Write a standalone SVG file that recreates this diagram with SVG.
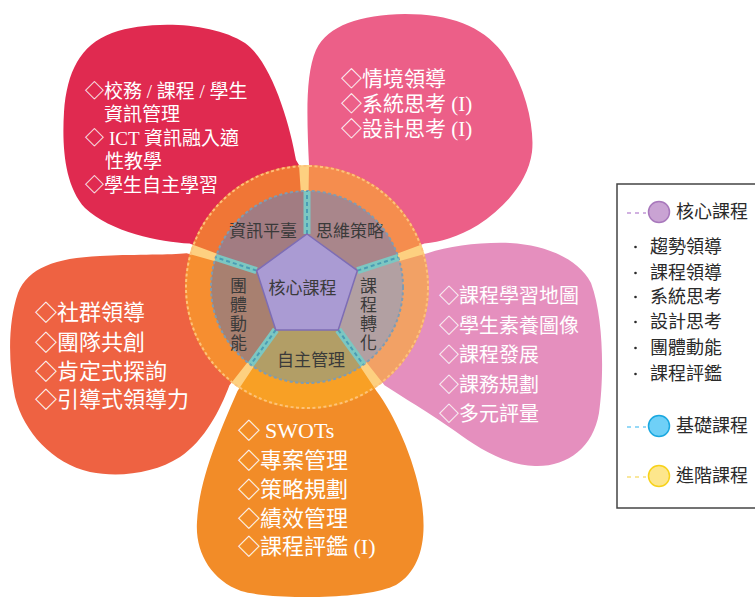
<svg xmlns="http://www.w3.org/2000/svg" width="755" height="597" viewBox="0 0 755 597">
<style>
.pt{font-family:"Noto Sans CJK TC","Noto Sans CJK SC",sans-serif;fill:#ffffff;}
.lat{font-family:"Liberation Serif","Times New Roman",serif;}
.ct{font-family:"Noto Sans CJK TC","Noto Sans CJK SC",sans-serif;fill:#3a3a3a;font-size:17px;}
.cv{font-family:"Noto Sans CJK TC","Noto Sans CJK SC",sans-serif;fill:#3a3a3a;font-size:17px;writing-mode:vertical-rl;letter-spacing:2px;}
.lt{font-family:"Noto Sans CJK TC","Noto Sans CJK SC",sans-serif;fill:#2a2a2a;font-size:18px;}
.div-band{stroke:#7cc7c2;stroke-width:7;stroke-linecap:butt;}
.div-dash{stroke:#4a9db4;stroke-width:2;stroke-dasharray:4 3;}
</style>
<rect width="755" height="597" fill="#ffffff"/>

<g id="petal-top-left">
<path d="M307,287 L189.6,243.6 C160,242 110,232 85,208 C64,185 62,145 64,112 C67,72 80,45 112,33 C150,20 212,22 245,43 C272,62 290,125 296,160 L299,165 Z" fill="#e02a50"/>
</g>
<g id="petal-top-right">
<path d="M307,287 L309,165 C307,120 305,75 316,50 C328,25 360,15 405,14 C450,14 482,26 502,52 C524,82 535,125 532,152 C528,182 505,207 478,225 C458,237 440,242 424.4,243.6 Z" fill="#ec5f88"/>
</g>
<g id="petal-right">
<path d="M307,287 L427.4,253.2 C450,246 480,242 510,243 C545,245 578,258 591,283 C604,318 604,378 599,413 C593,448 567,467 535,466 C505,465 478,448 455,431 C430,413 402,397 384.5,385.2 Z" fill="#e58fbe"/>
</g>
<g id="petal-bottom">
<path d="M307,287 L376.5,391 C394,414 414,458 421,498 C428,538 421,570 396,585 C366,600 272,600 241,591 C211,580 195,552 197,522 C199,482 216,440 237.5,391 Z" fill="#f28c28"/>
</g>
<g id="petal-left">
<path d="M307,287 L229.5,385.2 C220,410 205,440 180,457 C155,473 120,478 90,472 C52,463 24,432 15,397 C8,362 8,322 18,293 C28,268 55,258 100,256 C140,254 170,255 186.6,253.2 Z" fill="#ee6242"/>
</g>

<g id="outer-ring">
<circle cx="307" cy="287" r="122" fill="#fcae24" fill-opacity="0.58"/>
<circle cx="307" cy="287" r="121" fill="none" stroke="#fdc27a" stroke-width="2" stroke-dasharray="3 2.5"/>
</g>

<g id="seg-info">
<path d="M256.6,270.6 L215.7,257.3 A96,96 0 0 1 307,191 L307,234 Z" fill="#a27c82"/>
<text class="ct" x="229" y="237">資訊平臺</text>
</g>
<g id="seg-think">
<path d="M307,234 L307,191 A96,96 0 0 1 398.3,257.3 L357.4,270.6 Z" fill="#a9868b"/>
<text class="ct" x="316" y="237">思維策略</text>
</g>
<g id="seg-transform">
<path d="M357.4,270.6 L398.3,257.3 A96,96 0 0 1 363.4,364.7 L338.2,329.9 Z" fill="#b2a0a2"/>
<text class="cv" x="368.5" y="277">課程轉化</text>
</g>
<g id="seg-self">
<path d="M338.2,329.9 L363.4,364.7 A96,96 0 0 1 250.6,364.7 L275.8,329.9 Z" fill="#b29e66"/>
<text class="ct" x="277" y="366">自主管理</text>
</g>
<g id="seg-team">
<path d="M275.8,329.9 L250.6,364.7 A96,96 0 0 1 215.7,257.3 L256.6,270.6 Z" fill="#a88070"/>
<text class="cv" x="238.5" y="277">團體動能</text>
</g>
<circle cx="307" cy="287" r="96" fill="none" stroke="#7f9cb2" stroke-width="2" stroke-dasharray="3 2.5"/>

<g id="connectors">
<line class="div-band" x1="307" y1="234" x2="307" y2="191"/>
<line class="div-band" x1="357.4" y1="270.6" x2="398.3" y2="257.3"/>
<line class="div-band" x1="338.2" y1="329.9" x2="363.4" y2="364.7"/>
<line class="div-band" x1="275.8" y1="329.9" x2="250.6" y2="364.7"/>
<line class="div-band" x1="256.6" y1="270.6" x2="215.7" y2="257.3"/>
<line class="div-dash" x1="307" y1="234" x2="307" y2="191"/>
<line class="div-dash" x1="357.4" y1="270.6" x2="398.3" y2="257.3"/>
<line class="div-dash" x1="338.2" y1="329.9" x2="363.4" y2="364.7"/>
<line class="div-dash" x1="275.8" y1="329.9" x2="250.6" y2="364.7"/>
<line class="div-dash" x1="256.6" y1="270.6" x2="215.7" y2="257.3"/>
</g>

<g id="core">
<polygon points="307,234 357.4,270.6 338.2,329.9 275.8,329.9 256.6,270.6" fill="#aa9bd3" stroke="#7d6db5" stroke-width="1.5"/>
<text class="ct" x="302.5" y="293.5" text-anchor="middle">核心課程</text>
</g>

<g id="text-top-left" class="pt" font-size="19">
<text x="85" y="98">◇校務<tspan class="lat"> / </tspan>課程<tspan class="lat"> / </tspan>學生</text>
<text x="104" y="121">資訊管理</text>
<text x="85" y="145">◇<tspan class="lat" x="109">ICT </tspan>資訊融入適</text>
<text x="105" y="168">性教學</text>
<text x="85" y="192">◇學生自主學習</text>
</g>
<g id="text-top-right" class="pt" font-size="21">
<text x="341" y="86">◇情境領導</text>
<text x="341" y="111">◇系統思考<tspan class="lat"> (I)</tspan></text>
<text x="341" y="136">◇設計思考<tspan class="lat"> (I)</tspan></text>
</g>
<g id="text-left" class="pt" font-size="22">
<text x="35" y="320">◇社群領導</text>
<text x="35" y="350">◇團隊共創</text>
<text x="35" y="378.5">◇肯定式探詢</text>
<text x="35" y="406.5">◇引導式領導力</text>
</g>
<g id="text-right" class="pt" font-size="20">
<text x="439" y="303">◇課程學習地圖</text>
<text x="439" y="333">◇學生素養圖像</text>
<text x="439" y="362">◇課程發展</text>
<text x="439" y="392">◇課務規劃</text>
<text x="439" y="421">◇多元評量</text>
</g>
<g id="text-bottom" class="pt" font-size="22">
<text x="238" y="438">◇<tspan class="lat" x="265">SWOTs</tspan></text>
<text x="238" y="468">◇專案管理</text>
<text x="238" y="497">◇策略規劃</text>
<text x="238" y="526">◇績效管理</text>
<text x="238" y="554">◇課程評鑑<tspan class="lat"> (I)</tspan></text>
</g>

<g id="legend">
<rect x="617" y="184" width="150" height="324" fill="#ffffff" stroke="#444444" stroke-width="1.5"/>
<line x1="627" y1="213" x2="646" y2="213" stroke="#a464c4" stroke-width="1.2" stroke-dasharray="4 4"/>
<circle cx="659" cy="212" r="10.5" fill="#c9a3d3" stroke="#a878bc" stroke-width="1.5"/>
<text class="lt" x="676" y="218">核心課程</text>
<g fill="#2a2a2a">
<circle cx="635.5" cy="247" r="1.3"/>
<circle cx="635.5" cy="273" r="1.3"/>
<circle cx="635.5" cy="297" r="1.3"/>
<circle cx="635.5" cy="322" r="1.3"/>
<circle cx="635.5" cy="348" r="1.3"/>
<circle cx="635.5" cy="374" r="1.3"/>
</g>
<text class="lt" x="650" y="253">趨勢領導</text>
<text class="lt" x="650" y="279">課程領導</text>
<text class="lt" x="650" y="303">系統思考</text>
<text class="lt" x="650" y="328">設計思考</text>
<text class="lt" x="650" y="354">團體動能</text>
<text class="lt" x="650" y="380">課程評鑑</text>
<line x1="627" y1="427" x2="646" y2="427" stroke="#2fb3ef" stroke-width="1.2" stroke-dasharray="4 4"/>
<circle cx="659" cy="426" r="10.5" fill="#6fd0f7" stroke="#1aa8e0" stroke-width="1.5"/>
<text class="lt" x="676" y="432">基礎課程</text>
<line x1="627" y1="477" x2="646" y2="477" stroke="#f3cf3a" stroke-width="1.2" stroke-dasharray="4 4"/>
<circle cx="659" cy="476" r="10.5" fill="#fde68c" stroke="#f7d21a" stroke-width="1.5"/>
<text class="lt" x="676" y="482">進階課程</text>
</g>
</svg>
